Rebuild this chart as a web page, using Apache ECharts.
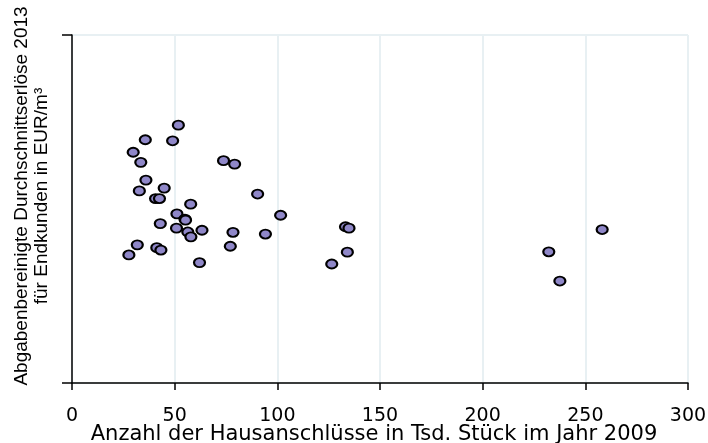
<!DOCTYPE html>
<html>
<head>
<meta charset="utf-8">
<script src="https://cdn.jsdelivr.net/npm/echarts@6/dist/echarts.min.js"></script>
<style>
    html, body { margin: 0; padding: 0; background: #fff; }
    #chart { width: 708px; height: 443px; }
</style>
</head>
<body>
<div id="chart"></div>
<script>
// Hausanschlüsse (Tsd.) je Unternehmen
var hausanschluesse = [51.8, 35.7, 49.0, 29.8, 73.8, 79.2, 33.5, 36.0, 32.8, 44.9,
    40.7, 42.6, 90.4, 57.8, 101.6, 51.1, 55.0, 55.3, 43.0, 50.9,
    56.4, 57.9, 63.3, 78.4, 94.2, 31.8, 41.3, 43.3, 27.7, 77.1,
    62.1, 133.2, 134.9, 134.1, 126.5, 258.2, 232.2, 237.6];
// Durchschnittserlöse (relative Skala, keine Beschriftung im Original)
var erloese = [74.1, 69.9, 69.6, 66.3, 63.9, 62.9, 63.4, 58.3, 55.2, 56.0,
    53.0, 53.0, 54.3, 51.4, 48.2, 48.6, 47.1, 46.8, 45.8, 44.5,
    43.4, 42.0, 43.9, 43.3, 42.8, 39.7, 38.9, 38.2, 36.8, 39.3,
    34.6, 44.9, 44.5, 37.6, 34.2, 44.1, 37.7, 29.3];

var xTitel = 'Anzahl der Hausanschlüsse in Tsd. Stück im Jahr 2009';
var yTitel = 'Abgabenbereinigte Durchschnittserlöse 2013\nfür Endkunden in EUR/m³';

var punkte = [];
for (var i = 0; i < hausanschluesse.length; i++) {
    punkte.push([hausanschluesse[i], erloese[i]]);
}

var myChart = echarts.init(document.getElementById('chart'));
var option = {
    animation: false,
    textStyle: { fontFamily: 'Liberation Sans' },
    grid: { left: 72, right: 20, top: 35, bottom: 60, outerBoundsMode: 'none', containLabel: false },
    xAxis: {
        type: 'value',
        min: 0,
        max: 300,
        interval: 50,
        name: xTitel,
        nameLocation: 'middle',
        nameGap: 41,
        nameMoveOverlap: false,
        // Original ist horizontal gestreckt, daher die breitere DejaVu
        nameTextStyle: { fontSize: 21, color: '#000', fontFamily: 'DejaVu Sans', padding: [0, 12, 0, 0] },
        axisLine: { show: true, onZero: false, lineStyle: { color: '#000', width: 1.5 } },
        axisTick: { show: true, length: 7, lineStyle: { color: '#000', width: 1.5 } },
        axisLabel: { fontSize: 19, color: '#000', margin: 24, fontFamily: 'DejaVu Sans' },
        splitLine: { show: true, lineStyle: { color: '#e8f0f3', width: 2 } }
    },
    yAxis: {
        type: 'value',
        min: 0,
        max: 100,
        interval: 100,
        name: yTitel,
        nameLocation: 'middle',
        nameGap: 20,
        nameMoveOverlap: false,
        nameTextStyle: {
            fontSize: 19, color: '#000', lineHeight: 20, align: 'center',
            fontFamily: 'Liberation Sans', padding: [0, 0, 0, 26]
        },
        axisLine: { show: true, onZero: false, lineStyle: { color: '#000', width: 1.5 } },
        axisTick: { show: true, length: 10, lineStyle: { color: '#000', width: 1.5 } },
        axisLabel: { show: false },
        splitLine: { show: true, lineStyle: { color: '#e8f0f3', width: 2 } }
    },
    series: [
        {
            type: 'scatter',
            data: punkte,
            symbol: 'circle',
            symbolSize: [11, 9],
            itemStyle: {
                color: '#8f87c8',
                borderColor: '#000',
                borderWidth: 2,
                opacity: 1
            }
        }
    ]
};
myChart.setOption(option);
</script>
</body>
</html>
